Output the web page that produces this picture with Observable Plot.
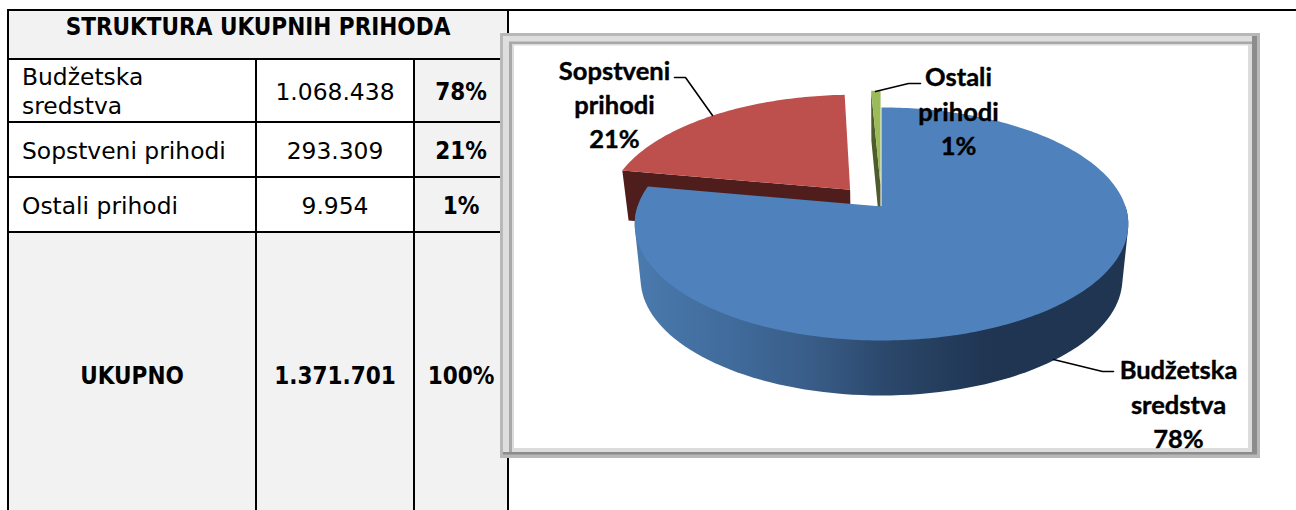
<!DOCTYPE html>
<html><head><meta charset="utf-8">
<script src="https://cdn.jsdelivr.net/npm/d3@7"></script>
<script src="https://cdn.jsdelivr.net/npm/@observablehq/plot@0.6"></script>
<style>
html,body{margin:0;padding:0;background:#fff;width:1296px;height:510px;overflow:hidden}
#wrap{position:relative;width:1296px;height:510px;overflow:hidden}
#topline{position:absolute;left:8px;top:9px;width:1288px;height:2px;background:#000}
table{position:absolute;left:7px;top:9px;border-collapse:collapse;table-layout:fixed;width:502px;
 font-family:"DejaVu Sans",sans-serif;font-size:23.4px;color:#000}
td{border:2px solid #000;padding:3px 0 0 0;text-align:center;vertical-align:middle;line-height:29px;overflow:hidden;white-space:nowrap}
td.name{text-align:left;padding-left:13px}
td.b,td.h{font-family:"DejaVu Sans Condensed","DejaVu Sans",sans-serif;font-weight:bold;font-size:24px}
td.g{background:#f2f2f2}
td.h{vertical-align:top;padding-top:2px;background:#f2f2f2}
tr.t td{padding:0 0 2px 0}
#chart{position:absolute;left:0;top:0}
</style></head><body>
<div id="wrap"><div id="topline"></div><div id="tbl"></div><div id="chart"></div></div>
<script>
const title = "STRUKTURA UKUPNIH PRIHODA";
const categories = ["Budžetska sredstva", "Sopstveni prihodi", "Ostali prihodi"];
const amounts = [1068438, 293309, 9954];
const amountLabels = ["1.068.438", "293.309", "9.954"];
const shareLabels = ["78%", "21%", "1%"];
const totalName = "UKUPNO", totalLabel = "1.371.701", totalShare = "100%";
const chartLabels = ["Budžetska\nsredstva\n78%", "Sopstveni\nprihodi\n21%", "Ostali\nprihodi\n1%"];

// ---- table
const rowH = [63, 55, 55, 290];
let html = `<table><colgroup><col style="width:248px"><col style="width:158px"><col style="width:94px"></colgroup>`;
html += `<tr style="height:49px"><td class="h" colspan="3">${title}</td></tr>`;
categories.forEach((c, i) => {
  const nm = i === 0 ? "Budžetska<br>sredstva" : c;
  html += `<tr style="height:${rowH[i]}px"><td class="name">${nm}</td><td>${amountLabels[i]}</td><td class="b g">${shareLabels[i]}</td></tr>`;
});
html += `<tr class="t" style="height:${rowH[3]}px"><td class="b g">${totalName}</td><td class="b g">${totalLabel}</td><td class="b g">${totalShare}</td></tr></table>`;
document.getElementById("tbl").innerHTML = html;

// ---- 3D pie layout (perspective tilt of a unit disc)
const cx = 881, apexY = 206, b = 244, a = 113.9, k = 0.15, shrink = 0.976;
const drops = [55, 50, 50];
const project = (px, py) => [cx + b * px / (1 - k * py), apexY + a * py / (1 - k * py)];
const total = d3.sum(amounts);
const explode = [0, 0.2, 0.2];
const topColors = ["#4f81bd", "#bd4f4c", "#9bbb59"];
const wallColors = ["url(#blueWall)", "#4f1e1c", "#4d5c2a"];

let acc = 0;
const slices = amounts.map((v, i) => {
  const start = acc / total * 2 * Math.PI; acc += v;
  const end = acc / total * 2 * Math.PI;
  const mid = (start + end) / 2;
  const ox = explode[i] * Math.sin(mid), oy = -explode[i] * Math.cos(mid);
  const n = Math.max(2, Math.ceil((end - start) * 180 / Math.PI));
  const arc = d3.range(n + 1).map(j => {
    const t = start + (end - start) * j / n;
    return project(ox + Math.sin(t), oy - Math.cos(t));
  });
  const frontArc = d3.range(90, 271, 2).map(deg => {
    const t = deg * Math.PI / 180;
    return project(ox + Math.sin(t), oy - Math.cos(t));
  });
  return {i, arc, frontArc, apex: project(ox, oy)};
});
const lower = i => ([x, y]) => [cx + (x - cx) * shrink, y + drops[i]];

const poly = (id, pts, fill) => pts.map(([x, y]) => ({id, x, y, fill}));
const polys = [];
[2, 1, 0].forEach(i => {
  const s = slices[i], low = lower(i), last = s.arc[s.arc.length - 1];
  if (i === 0) {
    polys.push(...poly("wall0", d3.polygonHull([...s.frontArc, ...s.frontArc.map(low)]), wallColors[0]));
  } else {
    polys.push(...poly("wallA" + i, [s.arc[0], s.apex, low(s.apex), low(s.arc[0])], wallColors[i]));
    if (i === 2) polys.push(...poly("wallB" + i, [s.apex, last, low(last), low(s.apex)], wallColors[i]));
  }
  polys.push(...poly("top" + i, [s.apex, ...s.arc], topColors[i]));
});

// ---- frame (nested bevel bands)
const frameBands = [
  {x1: 500, x2: 1260, y1: 33, y2: 458, fill: "#b8b8b8"},
  {x1: 503, x2: 1257, y1: 36, y2: 454.5, fill: "#8c8c8c"},
  {x1: 503, x2: 1252, y1: 36, y2: 452, fill: "#dedede"},
  {x1: 509, x2: 1252, y1: 41.5, y2: 452, fill: "#a8a8a8"},
  {x1: 512, x2: 1252, y1: 44, y2: 452, fill: "#dcdcdc"},
  {x1: 514, x2: 1248, y1: 45.5, y2: 448, fill: "#fff"}
];

const leaders = [
  {id: 0, pts: [[1053, 359], [1102, 371], [1113, 371]]},
  {id: 1, pts: [[674, 77], [685, 77], [712, 115]]},
  {id: 2, pts: [[875, 91], [908, 83], [920, 83]]}
].flatMap(l => l.pts.map(([x, y]) => ({id: l.id, x, y})));

const labelPos = [[1178, 402], [614, 102.5], [958, 109]];
const labels = chartLabels.map((text, i) => ({text, x: labelPos[i][0], y: labelPos[i][1]}));

const defs = () => {
  const svg = d3.create("svg:g");
  const g = svg.append("defs").append("linearGradient").attr("id", "blueWall").attr("gradientUnits", "userSpaceOnUse")
    .attr("x1", 640).attr("x2", 1125).attr("y1", 0).attr("y2", 0);
  [[0, "#4a79ad"], [0.2, "#3f6a9a"], [0.35, "#395d88"], [0.52, "#2a4669"], [0.72, "#1f3552"], [1, "#1f3552"]]
    .forEach(([o, c]) => g.append("stop").attr("offset", o).attr("stop-color", c));
  return svg.node();
};

const plot = Plot.plot({
  width: 1296, height: 510, margin: 0,
  style: {background: "transparent", overflow: "visible"},
  x: {domain: [0, 1296], range: [0, 1296], axis: null},
  y: {domain: [0, 510], range: [0, 510], axis: null},
  marks: [
    defs,
    Plot.rect(frameBands, {x1: "x1", x2: "x2", y1: "y1", y2: "y2", fill: d => d.fill}),
    Plot.line(polys, {x: "x", y: "y", z: "id", fill: d => d.fill, stroke: null, curve: "linear"}),
    Plot.line(leaders, {x: "x", y: "y", z: "id", stroke: "#000", strokeWidth: 1.6, curve: "linear"}),
    Plot.text(labels, {x: "x", y: "y", text: "text", fontFamily: "Lato", fontWeight: "bold", fontSize: 25.5, lineHeight: 1.35, fill: "#000", stroke: "#000", strokeWidth: 0.4, textAnchor: "middle"})
  ]
});
document.getElementById("chart").appendChild(plot);
</script>
</body></html>
